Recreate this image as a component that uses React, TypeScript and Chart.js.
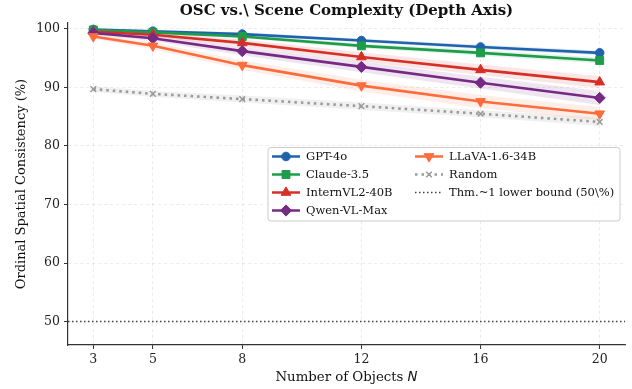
import React, { useEffect, useRef } from "react";
import { Chart, registerables } from "chart.js";
import { drawPoint } from "chart.js/helpers";

Chart.register(...registerables);

const objectCounts = [3, 5, 8, 12, 16, 20];
const yTickValues = [50, 60, 70, 80, 90, 100];

const gpt4oValues = [99.9, 99.6, 99.1, 98.0, 96.9, 95.9];
const claudeValues = [99.8, 99.4, 98.7, 97.1, 95.9, 94.6];
const internValues = [99.5, 99.0, 97.6, 95.2, 93.0, 90.9];
const qwenValues = [99.3, 98.4, 96.2, 93.5, 90.8, 88.2];
const llavaValues = [98.7, 97.1, 93.8, 90.3, 87.6, 85.5];
const randomValues = [89.7, 88.9, 88.0, 86.8, 85.5, 84.1];
const lowerBoundValue = 50;

const gpt4oSpread = [0.2, 0.2, 0.3, 0.3, 0.4, 0.4];
const claudeSpread = [0.2, 0.3, 0.3, 0.4, 0.5, 0.5];
const internSpread = [0.3, 0.4, 0.6, 0.8, 0.9, 1.0];
const qwenSpread = [0.3, 0.5, 0.7, 0.9, 1.0, 1.2];
const llavaSpread = [0.4, 0.6, 0.8, 1.0, 1.1, 1.1];
const randomSpread = [0.5, 0.5, 0.6, 0.6, 0.6, 0.7];

const seriesNames = ["GPT-4o", "Claude-3.5", "InternVL2-40B", "Qwen-VL-Max", "LLaVA-1.6-34B", "Random"];
const lowerBoundLabel = "Thm.~1 lower bound (50\\%)";
const titleText = "OSC vs.\\ Scene Complexity (Depth Axis)";
const xTitleText = "Number of Objects ";
const xTitleVar = "N";
const yTitleText = "Ordinal Spatial Consistency (%)";

const seriesValues = [gpt4oValues, claudeValues, internValues, qwenValues, llavaValues, randomValues];
const seriesSpreads = [gpt4oSpread, claudeSpread, internSpread, qwenSpread, llavaSpread, randomSpread];
const seriesColors = ["#2063ad", "#1f9c4b", "#d62f27", "#762a83", "#fd6c3c", "#9a9a9a"];
const seriesBands = [
  "rgba(32,99,173,0.12)",
  "rgba(31,156,75,0.12)",
  "rgba(214,47,39,0.12)",
  "rgba(118,42,131,0.12)",
  "rgba(253,108,60,0.12)",
  "rgba(150,150,150,0.14)",
];
const seriesPointStyles = ["circle", "rect", "triangle", "rectRot", "triangle", "crossRot"];
const seriesPointRotations = [0, 0, 0, 0, 180, 0];
const seriesPointRadius = [4.3, 5.6, 5.6, 5.6, 5.6, 4];

const SERIF = "'DejaVu Serif', serif";

const overlayPlugin = {
  id: "overlay",
  afterDraw(chart: any) {
    const ctx = chart.ctx as CanvasRenderingContext2D;
    const area = chart.chartArea;
    const cx = (area.left + area.right) / 2;
    ctx.save();
    // title
    ctx.fillStyle = "#111";
    ctx.font = `bold 15px ${SERIF}`;
    ctx.textAlign = "center";
    ctx.textBaseline = "middle";
    ctx.fillText(titleText, cx, 11);

    // x title
    ctx.font = `13.3px ${SERIF}`;
    const w1 = ctx.measureText(xTitleText).width;
    ctx.font = `italic 13.3px 'DejaVu Sans', sans-serif`;
    const w2 = ctx.measureText(xTitleVar).width;
    const start = cx - (w1 + w2) / 2;
    ctx.textAlign = "left";
    ctx.font = `13.3px ${SERIF}`;
    ctx.fillText(xTitleText, start, 378);
    ctx.font = `italic 13.3px 'DejaVu Sans', sans-serif`;
    ctx.fillText(xTitleVar, start + w1, 378);

    // y title
    ctx.save();
    ctx.translate(22, (area.top + area.bottom) / 2);
    ctx.rotate(-Math.PI / 2);
    ctx.textAlign = "center";
    ctx.font = `13px ${SERIF}`;
    ctx.fillText(yTitleText, 0, 0);
    ctx.restore();

    // legend
    const bx = 268, by = 147.5, bw = 352, bh = 73.5;
    ctx.beginPath();
    ctx.roundRect(bx, by, bw, bh, 3);
    ctx.fillStyle = "rgba(255,255,255,0.85)";
    ctx.fill();
    ctx.strokeStyle = "#cccccc";
    ctx.lineWidth = 1;
    ctx.stroke();

    const rows = [156.5, 174.5, 192.5, 210.5];
    const entries: any[] = [];
    for (let i = 0; i < seriesNames.length; i++) entries.push({ kind: "series", i });
    entries.push({ kind: "bound" });
    entries.forEach((e, k) => {
      const col = k < 4 ? 0 : 1;
      const row = k < 4 ? k : k - 4;
      const lx = col === 0 ? 272 : 415;
      const tx = col === 0 ? 306 : 449;
      const y = rows[row];
      ctx.save();
      if (e.kind === "series") {
        const i = e.i;
        ctx.strokeStyle = seriesColors[i];
        ctx.fillStyle = seriesColors[i];
        ctx.lineWidth = 2.5;
        if (i === 5) {
          ctx.setLineDash([2.5, 4]);
        }
        ctx.beginPath();
        ctx.moveTo(lx, y);
        ctx.lineTo(lx + 28, y);
        ctx.stroke();
        ctx.setLineDash([]);
        const bw2 = i === 5 ? 1.5 : 1;
        ctx.lineWidth = bw2;
        drawPoint(ctx, {
          pointStyle: seriesPointStyles[i],
          radius: seriesPointRadius[i],
          rotation: seriesPointRotations[i],
          borderWidth: bw2,
        } as any, lx + 14, y);
      } else {
        ctx.strokeStyle = "#444";
        ctx.lineWidth = 1.5;
        ctx.setLineDash([1.5, 2.5]);
        ctx.beginPath();
        ctx.moveTo(lx, y);
        ctx.lineTo(lx + 28, y);
        ctx.stroke();
      }
      ctx.restore();
      ctx.fillStyle = "#111";
      ctx.font = `11.5px ${SERIF}`;
      ctx.textAlign = "left";
      ctx.textBaseline = "middle";
      const label = e.kind === "series" ? seriesNames[e.i] : lowerBoundLabel;
      ctx.fillText(label, tx, y + 0.5);
    });
    ctx.restore();
  },
};

export default function App() {
  const ref = useRef<HTMLCanvasElement | null>(null);
  useEffect(() => {
    if (!ref.current) return;
    const datasets: any[] = [];
    // bands
    seriesValues.forEach((vals, i) => {
      const upperIndex = datasets.length;
      datasets.push({
        label: "band-up",
        data: objectCounts.map((x, j) => ({ x, y: vals[j] + seriesSpreads[i][j] })),
        borderWidth: 0,
        pointRadius: 0,
        fill: false,
        order: 100,
      });
      datasets.push({
        label: "band-low",
        data: objectCounts.map((x, j) => ({ x, y: vals[j] - seriesSpreads[i][j] })),
        borderWidth: 0,
        pointRadius: 0,
        backgroundColor: seriesBands[i],
        fill: { target: upperIndex },
        order: 100,
      });
    });
    seriesValues.forEach((vals, i) => {
      datasets.push({
        label: seriesNames[i],
        data: objectCounts.map((x, j) => ({ x, y: vals[j] })),
        borderColor: seriesColors[i],
        backgroundColor: seriesColors[i],
        pointBackgroundColor: seriesColors[i],
        pointBorderColor: seriesColors[i],
        borderWidth: 2.6,
        borderDash: i === 5 ? [2.5, 4] : [],
        borderCapStyle: "butt",
        pointStyle: seriesPointStyles[i],
        pointRotation: seriesPointRotations[i],
        pointRadius: seriesPointRadius[i],
        pointBorderWidth: i === 5 ? 1.5 : 1,
        fill: false,
        tension: 0,
        order: 20 - i,
      });
    });
    datasets.push({
      label: lowerBoundLabel,
      data: [
        { x: 2.15, y: lowerBoundValue },
        { x: 20.85, y: lowerBoundValue },
      ],
      borderColor: "#444",
      borderWidth: 1.5,
      borderDash: [1.5, 2.5],
      pointRadius: 0,
      fill: false,
      order: 1,
    });

    const chart = new Chart(ref.current, {
      type: "line",
      data: { datasets },
      options: {
        animation: false,
        responsive: false,
        layout: { padding: { top: 23, right: 7, left: 0, bottom: 0 } },
        plugins: { legend: { display: false }, tooltip: { enabled: false }, title: { display: false } },
        scales: {
          x: {
            type: "linear",
            min: 2.15,
            max: 20.85,
            afterBuildTicks: (s: any) => {
              s.ticks = objectCounts.map((v) => ({ value: v }));
            },
            afterFit: (s: any) => {
              s.height = 44;
            },
            ticks: {
              color: "#222",
              font: { family: SERIF, size: 12.5 },
              padding: 3,
              maxRotation: 0,
              autoSkip: false,
              callback: (v: any) => String(v),
            },
            grid: {
              color: "rgba(0,0,0,0.10)",
              lineWidth: 0.8,
              drawTicks: true,
              tickLength: 4,
              tickColor: "#333",
              tickWidth: 1,
              tickBorderDash: [],
            },
            border: { display: true, color: "#333", width: 1.2, dash: [3, 3] },
          },
          y: {
            type: "linear",
            min: 46,
            max: 101,
            afterBuildTicks: (s: any) => {
              s.ticks = yTickValues.map((v) => ({ value: v }));
            },
            afterFit: (s: any) => {
              s.width = 68;
            },
            ticks: {
              color: "#222",
              font: { family: SERIF, size: 12.5 },
              padding: 4,
              callback: (v: any) => String(v),
            },
            grid: {
              color: "rgba(0,0,0,0.10)",
              lineWidth: 0.8,
              drawTicks: true,
              tickLength: 4,
              tickColor: "#333",
              tickWidth: 1,
              tickBorderDash: [],
            },
            border: { display: true, color: "#333", width: 1.2, dash: [3, 3] },
          },
        },
      },
      plugins: [overlayPlugin],
    } as any);
    return () => chart.destroy();
  }, []);
  return (
    <div style={{ position: "fixed", left: 0, top: 0, width: 632, height: 389, background: "#fff" }}>
      <canvas ref={ref} width={632} height={389} style={{ width: 632, height: 389, display: "block" }} />
    </div>
  );
}
